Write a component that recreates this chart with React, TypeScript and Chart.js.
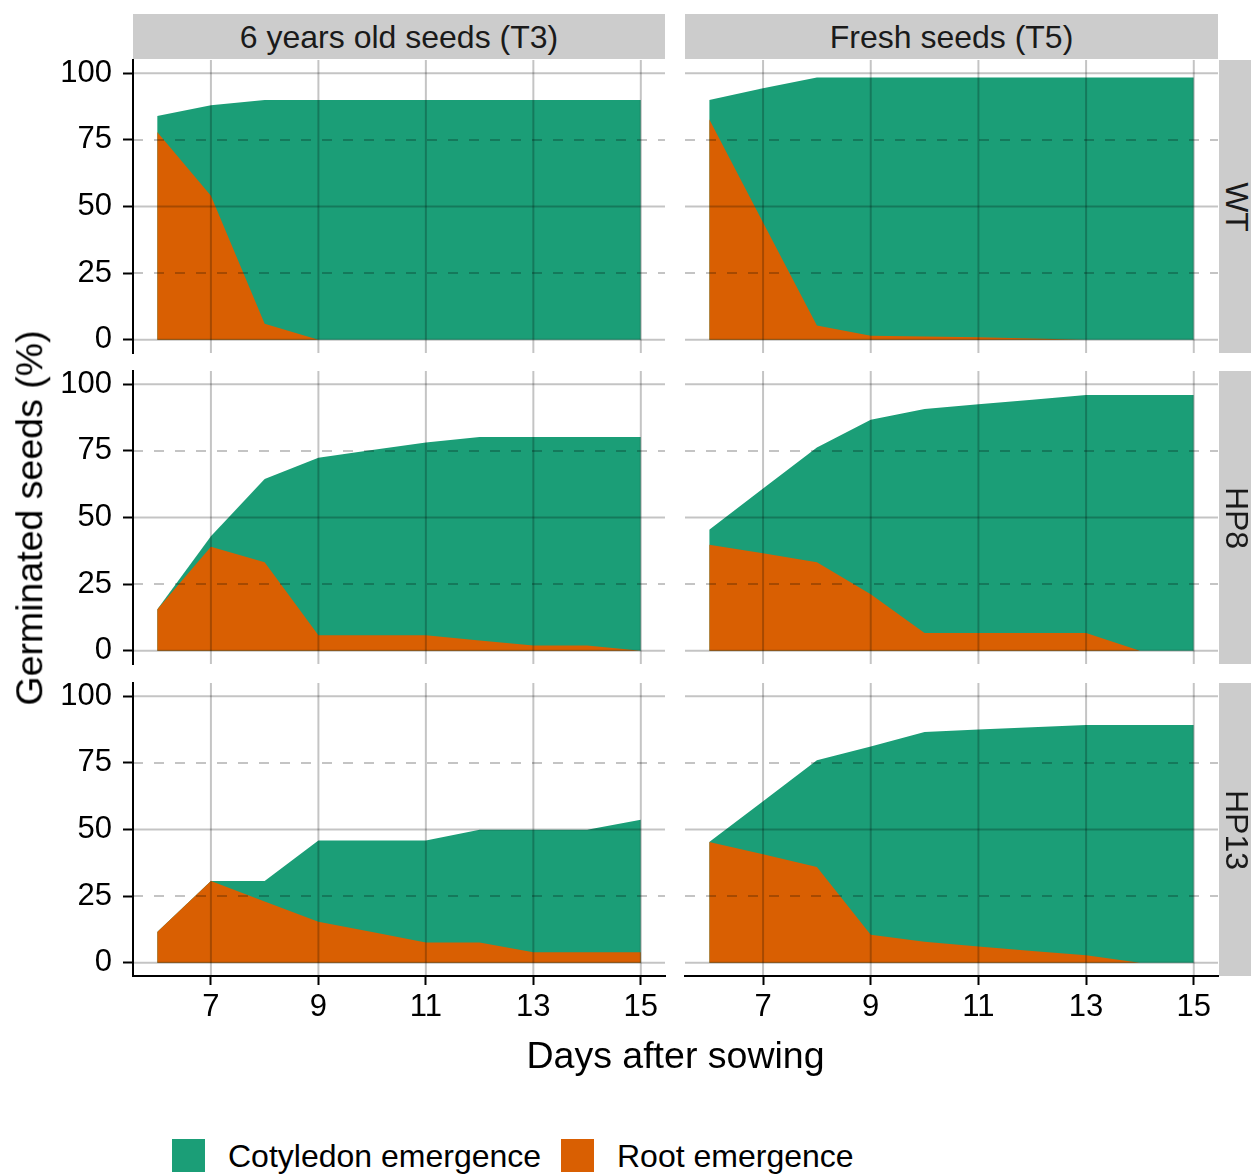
import React, { useEffect, useRef } from 'react';
import { Chart, registerables } from 'chart.js';

Chart.register(...registerables);

// ---------------- data ----------------
const days = [6, 7, 8, 9, 10, 11, 12, 13, 14, 15];
const xBreaks = [7, 9, 11, 13, 15];
const yBreaks = [0, 25, 50, 75, 100];
const seedAges = ['6 years old seeds (T3)', 'Fresh seeds (T5)'];
const genotypes = ['WT', 'HP8', 'HP13'];
const seriesNames = ['Cotyledon emergence', 'Root emergence'];

// 6 years old seeds (T3)
const rootT3WT = [78, 54, 6, 0, 0, 0, 0, 0, 0, 0];
const cotT3WT = [6, 34, 84, 90, 90, 90, 90, 90, 90, 90];
const rootT3HP8 = [15.5, 39, 33.2, 5.8, 5.8, 5.8, 3.8, 1.9, 1.9, 0];
const cotT3HP8 = [0, 4, 31.3, 66.6, 69.5, 72.4, 76.4, 78.3, 78.3, 80.2];
const rootT3HP13 = [11.5, 30.7, 23, 15.4, 11.5, 7.6, 7.6, 3.9, 3.9, 3.9];
const cotT3HP13 = [0, 0, 7.7, 30.5, 34.4, 38.3, 42.3, 46, 46, 49.8];

// Fresh seeds (T5)
const rootT5WT = [82.8, 44, 5.3, 1.5, 1.2, 0.9, 0.4, 0, 0, 0];
const cotT5WT = [7.2, 50.4, 93.1, 96.9, 97.2, 97.5, 98, 98.4, 98.4, 98.4];
const rootT5HP8 = [39.8, 36.6, 33.2, 21.2, 6.6, 6.6, 6.6, 6.6, 0, 0];
const cotT5HP8 = [5.6, 24.3, 43.1, 65.5, 84.1, 85.9, 87.6, 89.4, 96, 96];
const rootT5HP13 = [45.3, 40.7, 35.9, 10.5, 7.9, 6.1, 4.4, 2.8, 0, 0];
const cotT5HP13 = [0, 19.9, 40.1, 70.7, 78.7, 81.4, 84, 86.4, 89.2, 89.2];

const rootSeries = [
  [rootT3WT, rootT5WT],
  [rootT3HP8, rootT5HP8],
  [rootT3HP13, rootT5HP13],
];
const cotSeries = [
  [cotT3WT, cotT5WT],
  [cotT3HP8, cotT5HP8],
  [cotT3HP13, cotT5HP13],
];

// ---------------- style / layout ----------------
const FONT = "'Liberation Sans', Arial, Helvetica, sans-serif";
const GREEN = '#1B9E77';
const ORANGE = '#D95F02';
const STRIP_BG = '#CCCCCC';
const TICK_SIZE = 31;
const STRIP_SIZE = 32;
const TITLE_SIZE = 37.5;

const X_MIN = 5.55;
const X_MAX = 15.45;
const Y_MIN = -5;
const Y_MAX = 105;

const PANEL_LEFT = [133, 685];
const PANEL_WIDTH = [532, 533];
const PANEL_TOP = [60, 371, 683];
const PANEL_HEIGHT = 293;
const PAD = 40;
const X_AXIS_H = 70;

const gridOverlay = {
  id: 'gridOverlay',
  afterDatasetsDraw(chart: any) {
    const { ctx, chartArea } = chart;
    const { left, right, top, bottom } = chartArea;
    const xs = chart.scales.x;
    const ys = chart.scales.y;
    ctx.save();
    ctx.strokeStyle = 'rgba(0,0,0,0.23)';
    ctx.lineWidth = 2;
    xBreaks.forEach((v) => {
      const px = xs.getPixelForValue(v);
      ctx.setLineDash([]);
      ctx.beginPath();
      ctx.moveTo(px, top);
      ctx.lineTo(px, bottom);
      ctx.stroke();
    });
    yBreaks.forEach((v) => {
      const py = ys.getPixelForValue(v);
      ctx.setLineDash(v % 50 === 0 ? [] : [10, 11]);
      ctx.beginPath();
      ctx.moveTo(left, py);
      ctx.lineTo(right, py);
      ctx.stroke();
    });
    ctx.restore();
  },
};

type PanelProps = { row: number; col: number };

function Panel({ row, col }: PanelProps) {
  const ref = useRef<HTMLCanvasElement | null>(null);
  const isLeft = col === 0;
  const isBottom = row === genotypes.length - 1;
  const pL = PANEL_LEFT[col];
  const pW = PANEL_WIDTH[col];
  const pT = PANEL_TOP[row];
  const canvasLeft = isLeft ? 0 : pL - PAD;
  const canvasTop = pT - PAD;
  const canvasW = isLeft ? pL + pW + PAD : pW + 2 * PAD;
  const canvasH = PAD + PANEL_HEIGHT + (isBottom ? X_AXIS_H : PAD);

  useEffect(() => {
    const root = rootSeries[row][col];
    const cot = cotSeries[row][col];
    const chart = new Chart(ref.current as HTMLCanvasElement, {
      type: 'line',
      data: {
        datasets: [
          {
            label: seriesNames[1],
            data: days.map((d, i) => ({ x: d, y: root[i] })),
            backgroundColor: ORANGE,
            borderColor: ORANGE,
            borderWidth: 0,
            pointRadius: 0,
            fill: 'origin',
            tension: 0,
          },
          {
            label: seriesNames[0],
            data: days.map((d, i) => ({ x: d, y: cot[i] })),
            backgroundColor: GREEN,
            borderColor: GREEN,
            borderWidth: 0,
            pointRadius: 0,
            fill: 'origin',
            tension: 0,
          },
        ],
      },
      options: {
        responsive: false,
        animation: false,
        devicePixelRatio: 1,
        events: [],
        layout: {
          padding: {
            left: isLeft ? 0 : PAD,
            right: PAD,
            top: PAD,
            bottom: isBottom ? 0 : PAD,
          },
        },
        plugins: {
          legend: { display: false },
          tooltip: { enabled: false },
        },
        scales: {
          x: {
            type: 'linear',
            min: X_MIN,
            max: X_MAX,
            display: isBottom,
            afterBuildTicks: (axis: any) => {
              axis.ticks = xBreaks.map((v) => ({ value: v }));
            },
            afterFit: (s: any) => {
              if (isBottom) s.height = X_AXIS_H;
            },
            grid: {
              display: true,
              drawOnChartArea: false,
              drawTicks: true,
              tickLength: 9,
              tickWidth: 2,
              tickColor: '#000',
            },
            border: { display: true, color: '#000', width: 2 },
            ticks: {
              font: { family: FONT, size: TICK_SIZE },
              color: '#000',
              padding: 4,
              maxRotation: 0,
              autoSkip: false,
            },
          },
          y: {
            type: 'linear',
            min: Y_MIN,
            max: Y_MAX,
            stacked: true,
            display: isLeft,
            afterBuildTicks: (axis: any) => {
              axis.ticks = yBreaks.map((v) => ({ value: v }));
            },
            afterFit: (s: any) => {
              if (isLeft) s.width = pL;
            },
            grid: {
              display: true,
              drawOnChartArea: false,
              drawTicks: true,
              tickLength: 10,
              tickWidth: 2,
              tickColor: '#000',
            },
            border: { display: true, color: '#000', width: 2 },
            ticks: {
              font: { family: FONT, size: TICK_SIZE },
              color: '#000',
              padding: 11,
              autoSkip: false,
            },
          },
        },
      } as any,
      plugins: [gridOverlay],
    });
    return () => chart.destroy();
  }, []);

  return (
    <canvas
      ref={ref}
      width={canvasW}
      height={canvasH}
      style={{ position: 'absolute', left: canvasLeft, top: canvasTop, width: canvasW, height: canvasH }}
    />
  );
}

export default function App() {
  const panels: JSX.Element[] = [];
  genotypes.forEach((_, r) => {
    seedAges.forEach((__, c) => {
      panels.push(<Panel key={`${r}-${c}`} row={r} col={c} />);
    });
  });

  return (
    <div
      style={{
        position: 'fixed',
        left: 0,
        top: 0,
        width: 1251,
        height: 1175,
        overflow: 'hidden',
        background: '#fff',
        fontFamily: FONT,
        color: '#000',
      }}
    >
      {panels}

      {seedAges.map((label, c) => (
        <div
          key={label}
          style={{
            position: 'absolute',
            left: PANEL_LEFT[c],
            top: 14,
            width: PANEL_WIDTH[c],
            height: 45,
            background: STRIP_BG,
            display: 'flex',
            alignItems: 'center',
            justifyContent: 'center',
            fontSize: STRIP_SIZE,
            lineHeight: 1,
            color: '#1a1a1a',
            whiteSpace: 'nowrap',
          }}
        >
          {label}
        </div>
      ))}

      {genotypes.map((g, r) => (
        <div
          key={g}
          style={{
            position: 'absolute',
            left: 1219,
            top: PANEL_TOP[r],
            width: 45,
            height: PANEL_HEIGHT,
            background: STRIP_BG,
          }}
        >
          <div
            style={{
              position: 'absolute',
              left: 18,
              top: PANEL_HEIGHT / 2,
              transform: 'translate(-50%, -50%) rotate(90deg)',
              fontSize: STRIP_SIZE,
              lineHeight: 1,
              color: '#1a1a1a',
              whiteSpace: 'nowrap',
            }}
          >
            {g}
          </div>
        </div>
      ))}

      <div
        style={{
          position: 'absolute',
          left: 30,
          top: 518,
          transform: 'translate(-50%, -50%) rotate(-90deg)',
          fontSize: TITLE_SIZE,
          lineHeight: 1,
          whiteSpace: 'nowrap',
        }}
      >
        Germinated seeds (%)
      </div>

      <div
        style={{
          position: 'absolute',
          left: 675.5,
          top: 1056,
          transform: 'translate(-50%, -50%)',
          fontSize: TITLE_SIZE,
          lineHeight: 1,
          whiteSpace: 'nowrap',
        }}
      >
        Days after sowing
      </div>

      {[
        { name: seriesNames[0], color: GREEN, sq: 172, tx: 228 },
        { name: seriesNames[1], color: ORANGE, sq: 561, tx: 617 },
      ].map((it) => (
        <React.Fragment key={it.name}>
          <div
            style={{
              position: 'absolute',
              left: it.sq,
              top: 1139,
              width: 33,
              height: 33,
              background: it.color,
            }}
          />
          <div
            style={{
              position: 'absolute',
              left: it.tx,
              top: 1156,
              transform: 'translateY(-50%)',
              fontSize: STRIP_SIZE,
              lineHeight: 1,
              whiteSpace: 'nowrap',
            }}
          >
            {it.name}
          </div>
        </React.Fragment>
      ))}
    </div>
  );
}
